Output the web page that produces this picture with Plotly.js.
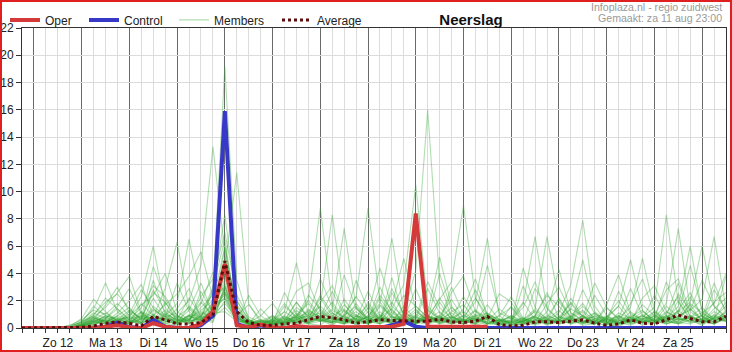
<!DOCTYPE html>
<html>
<head>
<meta charset="utf-8">
<script src="https://cdn.plot.ly/plotly-3.0.1.min.js"></script>
<style>
html,body{margin:0;padding:0;background:#fff;}
#wrap{position:relative;width:732px;height:352px;}
#frame{position:absolute;left:0;top:0;width:732px;height:352px;box-sizing:border-box;border:2px solid #e02020;pointer-events:none;}
</style>
</head>
<body>
<div id="wrap"><div id="chart"></div><div id="frame"></div></div>
<script>
// time axis: hours since Aug 12 00:00, 6-hourly steps
const hours = [-6,0,6,12,18,24,30,36,42,48,54,60,66,72,78,84,90,96,102,108,114,120,126,132,138,144,150,156,162,168,174,180,186,192,198,204,210,216,222,228,234,240,246,252,258,264,270,276,282,288,294,300,306,312,318,324,330,336,342,348];
const midnights = [0,24,48,72,96,120,144,168,192,216,240,264,288,312,336];
const dayLabels = ['Zo 12','Ma 13','Di 14','Wo 15','Do 16','Vr 17','Za 18','Zo 19','Ma 20','Di 21','Wo 22','Do 23','Vr 24','Za 25',''];

const oper = [0, 0,0,0,0, 0,0,0.1,0.2, 0.05,0,0.35,0.1, 0,0,0.3,1.2, 4.7,0.2,0.05,0.25, 0.05,0,0.15,0.05, 0.05,0.1,0.05,0.05, 0.05,0.05,0.1,0.3, 8.4,0.1,0.1,0.1, 0.1,0.1,0.1];
const control = [0, 0,0,0,0, 0,0,0.1,0.4, 0.05,0,0.6,0.1, 0,0,0.2,0.9, 15.9,0.3,0,0.2, 0,0,0.05,0, 0,0,0,0, 0,0,0.2,0.5, 0.1,0,0,0, 0,0,0,0, 0,0,0,0, 0,0,0,0, 0,0,0,0, 0,0,0,0, 0,0,0];
const average = [0, 0,0,0,0, 0.05,0.15,0.35,0.45, 0.35,0.15,0.85,0.6, 0.3,0.3,0.4,0.95, 4.9,1.2,0.4,0.2, 0.2,0.3,0.35,0.6, 0.85,0.75,0.6,0.35, 0.5,0.6,0.55,0.5, 0.5,0.5,0.65,0.45, 0.4,0.5,0.85,0.25, 0.15,0.2,0.45,0.45, 0.4,0.5,0.6,0.35, 0.2,0.3,0.6,0.35, 0.3,0.6,0.95,0.7, 0.45,0.45,0.85];

const m01 = [0, 0,0,0,0.1, 0.5,1.4,3.3,1.2, 0.4,1.8,0.9,0.3, 0.2,0.6,1.5,2.4, 3.8,0.9,0.2,0, 0,0.3,1.1,0.6, 0.8,1.9,0.7,0.2, 0.5,1.2,0.4,0.9, 1.6,0.8,2.1,3.4, 9.0,2.2,0.6,0.1, 0,0.4,1.3,0.7, 0.3,0.9,1.8,0.5, 0.1,0.3,1.2,0.6, 0.4,1.1,2.3,0.9, 0.5,1.4,2.2];
const m02 = [0, 0,0,0,0, 0.2,0.8,1.5,2.6, 3.8,1.1,0.5,1.9, 0.7,0.3,0.9,1.8, 2.6,1.2,0.4,0.1, 0.3,0.8,0.5,1.4, 0.6,0.2,1.0,2.3, 1.1,4.4,1.6,0.8, 0.3,0.6,1.2,0.4, 0.9,2.8,1.0,0.2, 0.1,0.5,0.9,2.4, 1.6,0.6,0.2,0.3, 0.8,2.0,0.7,0.4, 1.2,0.5,0.3,0.9, 0.4,1.0,0.6];
const m03 = [0, 0,0,0,0, 0.3,1.0,1.9,2.5, 1.4,0.6,2.8,1.2, 0.5,0.9,0.4,1.1, 5.2,2.0,0.6,0.3, 0.1,0.4,0.9,1.8, 0.7,0.4,2.1,0.9, 0.3,0.8,1.9,0.6, 0.2,1.3,0.7,1.5, 0.8,1.9,6.6,0.9, 0.2,0.6,0.3,0.8, 2.1,0.7,0.4,1.1, 0.3,0.1,0.6,1.7, 0.9,0.4,1.3,0.6, 0.2,0.8,1.6];
const m04 = [0, 0,0,0,0.2, 0.6,1.3,1.0,1.8, 0.9,0.3,2.2,0.8, 0.4,1.6,0.8,0.5, 2.9,0.7,0.2,0.5, 0.9,0.2,0.6,0.4, 1.3,0.6,0.3,0.8, 1.7,0.5,2.6,1.0, 0.4,0.9,0.3,0.7, 1.2,0.5,0.8,0.3, 0.1,0.3,0.6,0.2, 0.5,1.4,0.9,0.3, 0.7,0.4,0.2,0.6, 1.0,0.3,0.5,1.8, 1.1,0.6,0.9];
const m05 = [0, 0,0,0,0, 0.1,0.4,0.9,0.6, 0.8,2.3,6.0,1.5, 0.6,0.3,1.1,0.9, 4.1,1.7,0.5,0.2, 0.6,1.8,0.7,0.3, 0.2,0.9,1.4,0.5, 0.8,0.3,0.6,1.3, 0.5,1.1,5.2,1.6, 0.4,0.8,0.3,0.9, 1.5,0.4,0.2,0.5, 0.8,0.3,0.9,0.4, 0.2,0.7,0.4,1.0, 0.5,0.9,0.3,0.6, 0.9,0.4,1.2];
const m06 = [0, 0,0,0,0.1, 0.4,0.9,0.5,0.3, 1.2,0.7,4.5,2.1, 0.9,0.5,2.3,3.6, 7.0,2.4,0.8,0.4, 0.2,0.5,1.3,0.6, 2.4,1.1,0.4,0.7, 0.3,1.6,0.8,0.4, 1.0,0.6,4.0,1.3, 0.6,0.2,0.5,1.4, 0.7,1.9,0.6,0.3, 0.4,0.8,1.3,0.5, 0.9,0.3,0.6,0.2, 0.4,1.6,0.8,0.5, 0.3,0.7,0.5];
const m07 = [0, 0,0,0,0, 0.2,0.6,1.1,0.5, 0.3,1.2,0.8,2.9, 6.3,1.4,0.6,1.9, 6.0,1.1,0.3,0.1, 0.4,1.2,0.6,2.0, 0.9,0.5,1.7,0.8, 0.5,2.2,0.9,0.6, 1.4,0.5,0.9,0.3, 0.7,1.3,0.4,0.2, 0.5,1.8,6.7,1.4, 0.6,0.3,0.7,1.1, 0.4,0.9,0.3,0.6, 1.2,0.5,2.0,0.7, 0.6,0.3,0.9];
const m08 = [0, 0,0,0,0, 0,0.3,0.7,1.4, 0.6,0.4,1.6,0.9, 1.8,6.5,2.2,0.7, 3.1,0.6,0.2,0.5, 0.3,0.9,0.4,0.8, 1.1,0.7,0.3,1.5, 0.6,0.3,1.2,0.5, 0.8,0.4,1.9,0.6, 0.3,0.9,1.1,0.5, 0.2,0.6,1.4,6.7, 1.9,0.8,0.4,0.6, 0.3,1.1,0.7,0.4, 0.9,0.5,1.3,2.6, 0.8,0.4,1.3];
const m09 = [0, 0,0,0,0, 0.1,0.5,0.8,0.4, 0.9,1.7,2.4,4.0, 1.2,0.6,0.4,1.5, 2.2,0.8,0.3,0.2, 0.6,0.3,1.0,0.5, 1.6,0.8,0.5,0.3, 0.9,0.6,0.3,1.0, 0.4,0.8,0.5,1.2, 1.7,0.6,0.2,0.4, 0.3,4.4,1.5,0.6, 0.4,0.7,1.2,0.3, 0.6,0.4,0.8,1.3, 0.5,0.3,0.7,0.4, 1.0,0.6,0.5];
const m10 = [0, 0,0,0,0, 0.3,0.8,0.4,0.9, 1.5,0.5,3.5,1.0, 0.4,0.9,0.6,1.2, 2.7,0.9,0.4,0.3, 0.5,0.2,0.8,0.4, 0.6,1.3,0.8,0.4, 1.5,0.7,0.4,0.6, 0.3,0.9,0.6,0.8, 0.5,0.3,0.9,0.4, 0.6,0.3,0.8,0.5, 1.1,3.2,7.9,1.6, 0.4,0.2,0.5,0.9, 0.3,0.7,1.1,0.4, 0.5,1.2,0.7];
const m11 = [0, 0,0,0,0, 0,0.2,0.6,0.3, 0.5,0.9,0.4,0.7, 0.3,1.0,0.8,2.6, 19.2,3.5,0.6,0.2, 0.3,0.6,1.9,0.8, 0.5,0.4,0.9,1.6, 0.7,0.5,1.4,0.3, 0.9,0.4,0.6,1.1, 0.5,1.0,0.6,0.3, 0.4,0.7,0.3,1.2, 4.3,1.1,0.5,0.3, 0.6,0.9,0.4,0.7, 0.3,0.5,0.8,1.4, 0.6,0.3,0.8];
const m12 = [0, 0,0,0,0, 0.2,0.7,0.5,0.3, 0.6,0.4,1.3,0.8, 1.1,2.0,4.6,13.3, 5.5,0.8,0.3,0.6, 0.4,0.2,0.7,1.2, 0.8,0.5,0.3,0.9, 0.6,1.0,0.5,0.8, 0.4,0.7,0.3,0.5, 0.9,0.4,1.0,0.6, 0.3,0.5,0.9,0.4, 0.7,1.4,5.0,1.2, 0.5,0.3,0.8,0.4, 0.6,0.9,0.4,0.3, 0.7,0.5,1.0];
const m13 = [0, 0,0,0,0, 0.1,0.4,0.3,0.6, 0.4,0.8,0.5,1.1, 0.5,0.7,1.3,2.0, 4.5,11.4,1.8,0.4, 0.2,0.7,0.4,0.3, 0.9,0.4,1.3,0.6, 0.4,0.8,0.6,0.3, 0.5,0.9,0.4,0.7, 0.3,0.6,1.1,0.5, 0.8,0.3,0.4,0.9, 0.5,0.6,0.3,0.7, 0.8,1.6,5.0,1.3, 0.4,0.8,0.5,0.9, 0.4,0.7,1.1];
const m14 = [0, 0,0,0,0, 0.2,0.5,0.9,0.7, 0.3,1.1,0.6,0.4, 0.8,1.5,0.7,2.8, 8.3,1.6,0.3,0.1, 0.2,0.4,0.6,0.9, 0.5,0.8,0.4,0.3, 1.2,0.5,0.8,0.6, 0.4,0.3,0.8,0.5, 0.6,0.9,0.4,0.3, 0.2,0.5,0.8,0.4, 0.6,0.3,0.5,0.9, 0.4,0.7,1.5,5.1, 1.3,0.6,0.4,0.8, 0.5,0.9,0.6];
const m15 = [0, 0,0,0,0, 0.3,0.6,0.4,0.8, 0.5,0.3,0.9,1.7, 2.5,3.8,5.6,2.2, 3.0,0.7,0.4,0.2, 0.3,0.8,0.5,0.4, 0.7,0.3,0.6,1.0, 0.4,0.7,0.3,0.5, 0.8,0.4,0.6,0.3, 0.5,0.7,0.3,0.6, 0.4,0.2,0.6,0.8, 0.3,0.5,0.9,0.4, 0.6,0.3,0.5,0.8, 1.5,8.3,1.9,0.6, 0.4,0.8,0.5];
const m16 = [0, 0,0,0,0, 0.1,0.3,0.7,0.5, 0.4,0.6,1.0,0.5, 0.3,0.8,1.9,0.9, 5.9,1.3,0.5,0.3, 0.6,1.2,4.8,1.0, 0.5,0.8,0.4,0.7, 0.3,0.6,0.9,0.4, 0.7,0.3,0.5,0.9, 0.4,0.8,0.3,0.5, 0.9,0.4,0.6,0.3, 0.5,0.7,0.4,0.6, 0.3,0.5,0.8,0.4, 0.7,1.8,7.3,1.4, 0.6,0.3,0.7];
const m17 = [0, 0,0,0,0, 0.2,0.5,0.3,0.6, 0.8,0.4,0.7,0.3, 0.5,0.9,0.6,1.4, 3.3,0.9,0.4,0.6, 0.3,0.5,0.8,2.1, 8.8,1.7,0.6,0.4, 0.5,0.9,0.3,0.7, 0.4,0.6,0.9,0.5, 0.3,0.7,0.4,0.6, 0.5,0.3,0.8,0.4, 0.6,0.9,0.4,0.3, 0.7,0.4,0.6,0.9, 0.5,0.7,1.6,6.0, 1.2,0.5,0.8];
const m18 = [0, 0,0,0,0, 0,0.2,0.6,0.4, 0.7,0.9,0.5,0.8, 0.4,0.6,1.2,0.7, 2.0,0.6,0.3,0.5, 0.2,0.4,0.7,0.9, 1.6,8.3,1.8,0.5, 0.8,0.4,0.6,0.3, 0.5,0.9,0.4,0.6, 0.7,0.3,0.8,0.5, 0.4,0.6,0.3,0.7, 0.9,0.5,0.4,0.6, 0.3,0.8,0.5,0.4, 0.6,0.4,0.9,1.3, 2.1,6.7,1.4];
const m19 = [0, 0,0,0,0, 0.1,0.4,0.8,0.5, 0.3,0.7,0.4,1.0, 0.6,0.4,0.9,1.6, 2.4,0.5,0.2,0.4, 0.6,0.3,0.9,0.5, 0.8,1.4,7.3,1.5, 0.5,0.3,0.8,0.6, 0.4,0.7,0.5,0.3, 0.6,0.4,0.9,0.7, 0.3,0.5,0.7,0.4, 0.8,0.6,0.3,0.5, 0.4,0.9,0.6,0.3, 0.5,0.8,1.2,1.9, 6.0,1.6,0.7];
const m20 = [0, 0,0,0,0, 0.2,0.6,0.4,0.3, 0.5,0.3,0.8,0.6, 0.9,0.5,0.7,1.2, 3.6,1.0,0.4,0.3, 0.5,0.7,0.4,1.1, 0.6,0.4,0.9,2.3, 8.8,1.9,0.7,0.5, 0.3,0.8,0.6,0.4, 0.5,0.9,0.3,0.6, 0.7,0.4,0.6,0.3, 0.5,0.8,0.4,0.9, 0.6,0.3,0.7,0.5, 0.4,0.9,0.6,0.8, 1.1,1.8,4.0];
const m21 = [0, 0,0,0,0, 0.3,0.7,0.5,0.9, 0.6,1.2,0.4,0.7, 0.3,0.9,0.5,1.3, 2.2,0.4,0.6,0.3, 0.8,0.4,0.3,0.7, 0.5,1.1,0.6,0.4, 0.9,1.8,6.6,1.2, 0.5,0.7,0.4,0.8, 0.3,0.6,0.5,0.4, 0.9,0.5,0.3,0.6, 0.4,0.7,0.5,0.3, 0.8,0.5,0.9,0.4, 0.6,0.3,0.7,0.5, 0.9,0.4,0.6];
const m22 = [0, 0,0,0,0, 0.2,0.4,0.6,0.3, 0.4,0.9,0.6,0.5, 0.7,0.4,0.8,1.0, 1.8,0.7,0.3,0.5, 0.4,0.6,0.8,0.3, 0.5,0.7,0.4,0.9, 0.6,0.4,1.7,5.1, 1.3,0.5,0.8,0.4, 0.6,0.3,0.7,0.5, 0.4,0.8,0.3,0.6, 0.5,0.4,0.7,0.8, 0.3,0.6,0.4,0.7, 0.8,0.5,0.3,0.6, 0.4,0.7,0.9];
const m23 = [0, 0,0,0,0, 0.1,0.5,0.3,0.7, 0.5,0.4,0.9,0.6, 0.3,0.7,0.5,0.9, 2.6,0.5,0.4,0.2, 0.5,0.3,0.6,0.4, 0.7,0.5,0.3,0.6, 0.4,0.8,1.4,3.2, 10.5,1.6,0.7,0.4, 0.6,0.4,0.8,0.3, 0.5,0.7,0.4,0.6, 0.3,0.5,0.8,0.4, 0.7,0.4,0.3,0.5, 0.4,0.8,0.6,0.7, 0.5,0.3,0.8];
const m24 = [0, 0,0,0,0, 0.2,0.3,0.6,0.4, 0.3,0.7,0.5,0.9, 0.4,0.6,0.3,0.8, 1.5,0.6,0.3,0.5, 0.3,0.5,0.4,0.7, 0.6,0.4,0.8,0.5, 0.3,0.6,0.4,1.1, 4.2,16.0,3.3,0.8, 0.5,0.7,0.3,0.6, 0.4,0.5,0.8,0.3, 0.6,0.4,0.5,0.7, 0.4,0.3,0.6,0.5, 0.7,0.5,0.4,0.8, 0.6,0.9,0.5];
const m25 = [0, 0,0,0,0, 0.4,1.1,0.7,1.6, 2.9,1.0,0.6,1.3, 0.8,0.4,2.7,1.1, 1.2,0.5,2.4,0.9, 0.3,2.6,1.0,0.4, 1.9,3.1,1.2,0.6, 2.7,0.9,0.4,1.6, 0.6,2.9,1.1,0.5, 1.4,3.6,0.9,0.3, 0.6,1.5,3.4,1.0, 0.5,2.2,0.8,0.4, 1.7,3.9,1.1,0.5, 0.9,2.8,3.6,1.2, 0.6,1.9,2.6];
const m26 = [0, 0,0,0,0.1, 0.7,2.1,1.2,0.5, 1.0,2.8,1.5,0.6, 1.4,2.9,0.7,0.4, 3.1,0.8,0.3,1.4, 0.5,0.9,2.7,3.3, 1.2,0.6,3.9,1.4, 0.7,2.4,1.3,0.6, 2.9,0.8,0.5,2.6, 3.8,1.2,0.6,0.9, 2.3,0.7,0.4,1.8, 3.0,1.1,0.6,2.4, 0.9,0.5,1.8,3.6, 1.0,0.6,2.5,1.3, 3.5,1.6,0.8];
const m27 = [0, 0,0,0,0, 0.3,0.9,2.2,1.4, 0.6,1.5,3.1,2.3, 0.9,0.5,1.8,4.1, 2.5,0.9,1.7,0.6, 0.4,1.6,0.8,2.4, 1.4,0.7,0.5,3.5, 1.3,0.6,2.9,1.0, 0.8,3.4,1.5,0.7, 2.3,0.9,4.6,1.1, 0.7,0.4,2.9,1.5, 0.6,1.9,0.8,3.3, 1.5,0.6,0.4,2.2, 3.1,1.2,0.7,1.7, 0.5,2.8,1.3];
const m28 = [0, 0,0,0,0, 0.1,0.6,1.7,3.0, 1.1,0.4,1.4,0.8, 3.3,1.2,0.5,1.6, 4.3,1.3,0.5,0.2, 0.7,0.4,1.5,0.9, 3.6,1.5,0.6,1.2, 0.5,1.7,0.9,2.4, 1.6,0.7,2.2,0.9, 0.4,1.3,0.7,2.5, 1.9,0.6,1.2,0.5, 2.2,0.8,1.6,0.7, 0.5,2.7,1.0,0.6, 2.4,0.9,3.3,0.8, 1.5,0.6,3.8];
const m29 = [0, 0,0,0,0, 0.5,0.8,0.4,1.1, 2.0,3.2,0.9,0.5, 0.6,2.2,0.9,3.0, 6.5,0.7,0.4,0.9, 1.8,0.6,0.4,1.3, 0.8,2.7,0.9,0.4, 1.9,0.6,3.7,0.8, 0.5,1.4,0.6,3.0, 1.0,0.5,1.7,0.6, 0.3,3.1,1.0,0.6, 1.3,0.5,2.8,1.0, 0.7,1.6,0.5,1.2, 0.6,3.4,1.0,4.6, 1.3,0.7,1.9];
const m30 = [0, 0,0,0,0.2, 0.4,1.6,0.9,0.6, 1.3,0.7,2.6,1.9, 0.5,1.3,3.3,1.0, 4.8,2.0,0.6,0.3, 0.9,0.5,1.9,0.7, 2.2,0.9,0.5,1.8, 0.6,3.0,1.1,0.5, 1.2,0.6,0.9,2.1, 0.7,2.2,0.9,0.4, 1.6,0.5,0.9,2.6, 0.8,1.8,0.6,0.4, 1.5,0.7,2.9,0.9, 0.5,1.2,0.7,2.3, 0.8,3.3,1.1];
const members = [m01,m02,m03,m04,m05,m06,m07,m08,m09,m10,m11,m12,m13,m14,m15,m16,m17,m18,m19,m20,m21,m22,m23,m24,m25,m26,m27,m28,m29,m30];

const traces = [];
members.forEach(function(m, k){
  traces.push({x: hours, y: m, type: 'scatter', mode: 'lines', name: 'Members',
    legend: 'legend3', legendgroup: 'members', showlegend: k === 0,
    line: {color: 'rgba(50,165,50,0.38)', width: 1.1}, hoverinfo: 'skip'});
});
traces.push({x: hours, y: control, type: 'scatter', mode: 'lines', name: 'Control',
  legend: 'legend2', line: {color: '#3838c8', width: 4}});
traces.push({x: hours.slice(0, oper.length), y: oper, type: 'scatter', mode: 'lines', name: 'Oper',
  legend: 'legend', line: {color: '#d53a3a', width: 4}});
traces.push({x: hours, y: average, type: 'scatter', mode: 'lines', name: 'Average',
  legend: 'legend4', line: {color: '#5e0c0c', width: 3, dash: 'dot'}});

const W = 704, L = 22;
function px(p){ return (p - L) / W; }
const legBase = {orientation: 'h', xanchor: 'left', yanchor: 'middle', y: 1.027,
  bgcolor: 'rgba(0,0,0,0)', borderwidth: 0, itemwidth: 30,
  font: {family: 'Liberation Sans, Arial, sans-serif', size: 12, color: '#222'}};

const layout = {
  width: 732, height: 352,
  margin: {l: 22, r: 6, t: 28, b: 24, autoexpand: false},
  paper_bgcolor: '#fff', plot_bgcolor: '#fff',
  font: {family: 'Liberation Sans, Arial, sans-serif', size: 12, color: '#222'},
  title: {text: '<b>Neerslag</b>', font: {size: 15, color: '#111'},
    xref: 'paper', x: px(471), xanchor: 'center', yref: 'container', y: 1 - 20/352, yanchor: 'middle'},
  xaxis: {range: [-6, 348], tickmode: 'array', tickvals: midnights, ticktext: dayLabels,
    ticklabelshift: 24, showgrid: true, gridcolor: '#6a6a6a', gridwidth: 1,
    ticks: 'outside', ticklen: 4, tickcolor: '#333', showline: true, linecolor: '#333', mirror: true,
    zeroline: false, fixedrange: true,
    minor: {tickmode: 'linear', tick0: 0, dtick: 6, ticks: 'outside', ticklen: 4, tickcolor: '#333',
      showgrid: true, gridcolor: '#dcdcdc', gridwidth: 1}},
  yaxis: {range: [0, 22], tick0: 0, dtick: 2, ticks: 'outside', ticklen: 5, tickcolor: '#333',
    showgrid: true, gridcolor: '#dcdcdc', showline: true, linecolor: '#333', mirror: true,
    zeroline: false, fixedrange: true},
  legend: Object.assign({}, legBase, {x: px(5)}),
  legend2: Object.assign({}, legBase, {x: px(84)}),
  legend3: Object.assign({}, legBase, {x: px(174)}),
  legend4: Object.assign({}, legBase, {x: px(277)}),
  annotations: [
    {text: 'Infoplaza.nl - regio zuidwest', xref: 'paper', yref: 'paper', x: px(724), y: 1 + (28-7)/300,
      xanchor: 'right', yanchor: 'middle', showarrow: false, font: {size: 10.6, color: '#9a9a9a'}},
    {text: 'Gemaakt: za 11 aug 23:00', xref: 'paper', yref: 'paper', x: px(724), y: 1 + (28-18)/300,
      xanchor: 'right', yanchor: 'middle', showarrow: false, font: {size: 10.6, color: '#9a9a9a'}}
  ],
  showlegend: true
};

Plotly.newPlot('chart', traces, layout, {staticPlot: true, displayModeBar: false});
</script>
</body>
</html>
